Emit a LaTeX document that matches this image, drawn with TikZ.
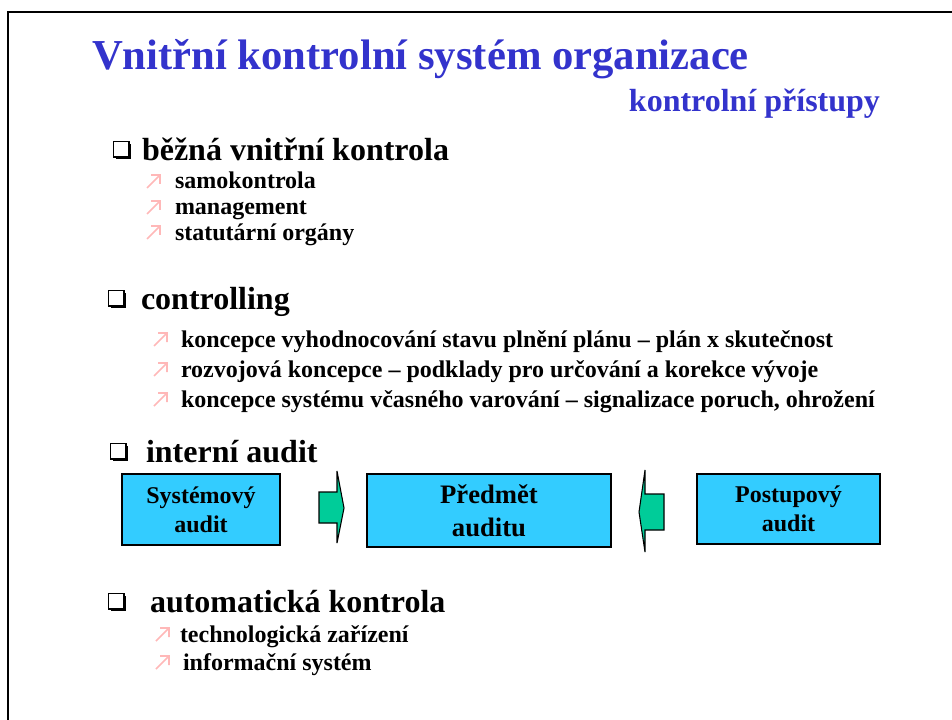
\documentclass[tikz,border=0pt]{standalone}
\usepackage{fontspec}
\setmainfont{Liberation Serif}
\usetikzlibrary{shadows}
\definecolor{titleblue}{HTML}{3333CC}
\definecolor{boxcyan}{HTML}{33CCFF}
\definecolor{arrgreen}{HTML}{00CC99}
\definecolor{pinkarr}{HTML}{FFB8B8}
\newcommand\fs[1]{\fontsize{#1}{#1}\selectfont}
\newcommand\parrow[2]{\draw[parr] (#1,#2) -- ++(13,-13) (#1+4,#2-13) -- ++(9,0) -- ++(0,9);}
\begin{document}
\begin{tikzpicture}[x=0.75pt,y=-0.75pt,
  lbl/.style={anchor=base west,inner sep=0pt,outer sep=0pt,font=\bfseries},
  qb/.style={draw=black,line width=1.1pt,fill=white,minimum size=11.5pt,inner sep=0pt,anchor=north west,
    drop shadow={shadow xshift=1.8pt,shadow yshift=-1.8pt,fill=black,opacity=1}},
  parr/.style={draw=pinkarr,line width=1.2pt},
  auditbox/.style={draw=black,line width=0.8pt,fill=boxcyan,inner sep=0pt,align=center,font=\bfseries},
  blockarr/.style={draw=black,line width=0.8pt,fill=arrgreen,line join=miter}]
\useasboundingbox (0,0) rectangle (952,720);
\draw[line width=1.5pt] (8,720) -- (8,12) -- (952,12);
% title
\node[lbl,text=titleblue,font=\bfseries\fs{32}] (title) at (92,70) {Vnitřní kontrolní systém organizace};
\node[lbl,anchor=base east,text=titleblue,font=\bfseries\fs{24}] (subtitle) at (880,112) {kontrolní přístupy};
% section 1
\node[qb] (q1) at (113,141) {};
\node[lbl,font=\bfseries\fs{24}] (h1) at (142,161) {běžná vnitřní kontrola};
\parrow{147}{188}
\node[lbl,font=\bfseries\fs{18}] (s1) at (175,189) {samokontrola};
\parrow{147}{214}
\node[lbl,font=\bfseries\fs{18}] (s2) at (175,215) {management};
\parrow{147}{239}
\node[lbl,font=\bfseries\fs{18}] (s3) at (175,240) {statutární orgány};
% section 2
\node[qb] (q2) at (108,290) {};
\node[lbl,font=\bfseries\fs{24}] (h2) at (141,309) {controlling};
\parrow{154}{346}
\node[lbl,font=\bfseries\fs{18}] (c1) at (181,347) {koncepce vyhodnocování stavu plnění plánu – plán x skutečnost};
\parrow{154}{376}
\node[lbl,font=\bfseries\fs{18}] (c2) at (181,377) {rozvojová koncepce – podklady pro určování a korekce vývoje};
\parrow{154}{406}
\node[lbl,font=\bfseries\fs{18}] (c3) at (181,407) {koncepce systému včasného varování – signalizace poruch, ohrožení};
% section 3
\node[qb] (q3) at (110,443) {};
\node[lbl,font=\bfseries\fs{24}] (h3) at (146,462) {interní audit};
\node[auditbox,minimum width=118.5pt,minimum height=53.25pt,font=\bfseries\fontsize{18}{22}\selectfont] (sys) at (201,509.5) {Systémový\\audit};
\node[auditbox,minimum width=183pt,minimum height=54.75pt,font=\bfseries\fontsize{20}{25}\selectfont] (pred) at (489,510.5) {Předmět\\auditu};
\node[auditbox,minimum width=137.25pt,minimum height=52.5pt,font=\bfseries\fontsize{18}{22}\selectfont] (post) at (788.5,509) {Postupový\\audit};
\draw[blockarr] (319,492) -- (337,492) -- (337,471) -- (344,508) -- (337,543) -- (337,523) -- (319,523) -- cycle;
\draw[blockarr] (664,494) -- (645,494) -- (645,470) -- (639,512) -- (645,552) -- (645,530) -- (664,530) -- cycle;
% section 4
\node[qb] (q4) at (108,593) {};
\node[lbl,font=\bfseries\fs{24}] (h4) at (150,612) {automatická kontrola};
\parrow{156}{641}
\node[lbl,font=\bfseries\fs{18}] (a1) at (180,642) {technologická zařízení};
\parrow{156}{669}
\node[lbl,font=\bfseries\fs{18}] (a2) at (183,670) {informační systém};
\end{tikzpicture}
\end{document}
